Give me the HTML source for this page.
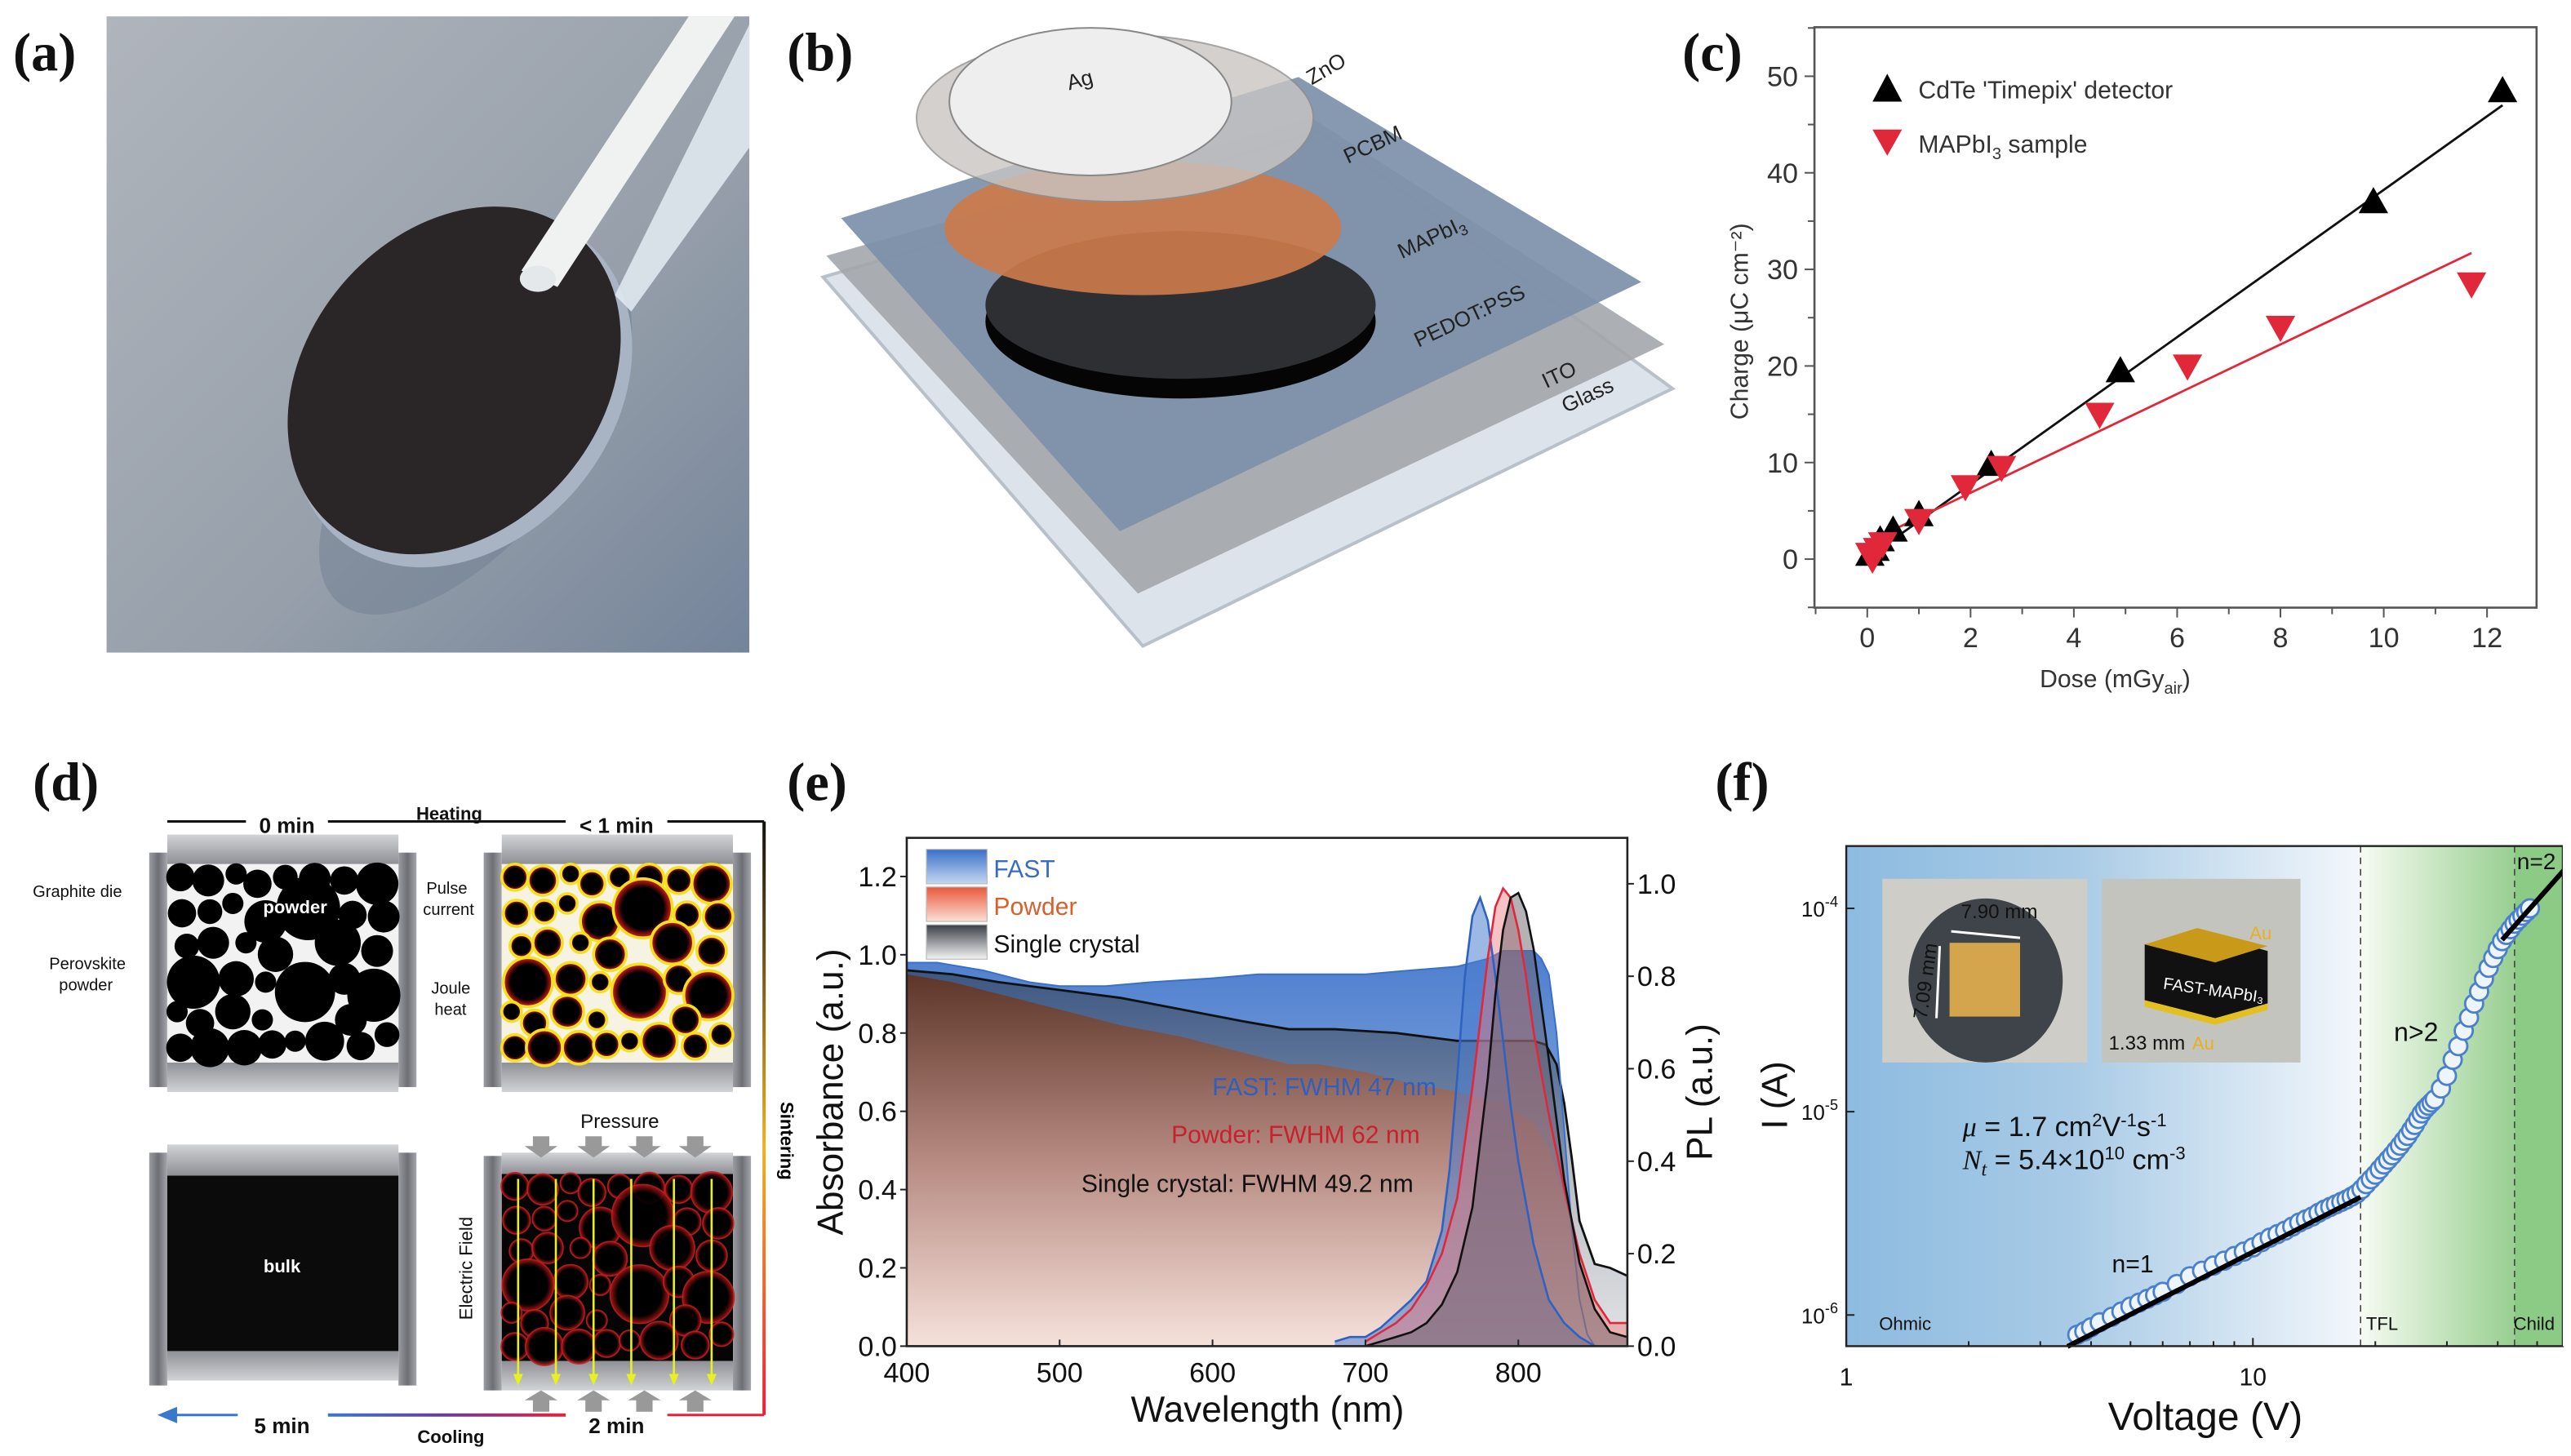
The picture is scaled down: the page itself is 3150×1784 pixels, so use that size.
<!DOCTYPE html>
<html><head><meta charset="utf-8">
<style>
html,body{margin:0;padding:0;background:#fff;}
svg{display:block;}
text{font-family:"Liberation Sans",sans-serif;}
.lbl{font-family:"Liberation Serif",serif;font-weight:bold;font-size:33px;fill:#111;}
</style></head>
<body>
<svg id="fig" xmlns="http://www.w3.org/2000/svg" width="3150" height="1784" viewBox="0 0 1568 888" preserveAspectRatio="none">
<defs>
<linearGradient id="bgA" x1="0" y1="0" x2="1" y2="1"><stop offset="0" stop-color="#b0b5bc"/><stop offset="0.6" stop-color="#969faa"/><stop offset="1" stop-color="#74849a"/></linearGradient>
<linearGradient id="gFast" x1="0" y1="0" x2="0" y2="1"><stop offset="0" stop-color="#3a70c8"/><stop offset="1" stop-color="#a8c3ea"/></linearGradient>
<linearGradient id="gPow" x1="0" y1="0" x2="0" y2="1"><stop offset="0" stop-color="#5e3426"/><stop offset="0.5" stop-color="#b88a80"/><stop offset="1" stop-color="#f7e2da"/></linearGradient>
<linearGradient id="gSc" x1="0" y1="0" x2="0" y2="1"><stop offset="0" stop-color="#2c3442"/><stop offset="1" stop-color="#c8ccd2"/></linearGradient>
<linearGradient id="gLegF" x1="0" y1="0" x2="0" y2="1"><stop offset="0" stop-color="#3a70c8"/><stop offset="1" stop-color="#c5d7f1"/></linearGradient>
<linearGradient id="gLegP" x1="0" y1="0" x2="0" y2="1"><stop offset="0" stop-color="#e8583a"/><stop offset="1" stop-color="#fbe0d6"/></linearGradient>
<linearGradient id="gLegS" x1="0" y1="0" x2="0" y2="1"><stop offset="0" stop-color="#3a3f48"/><stop offset="1" stop-color="#f4f4f4"/></linearGradient>
<linearGradient id="gBlue" x1="0" y1="0" x2="1" y2="0"><stop offset="0" stop-color="#8dbbe0"/><stop offset="0.45" stop-color="#a9cbe6"/><stop offset="1" stop-color="#f3f7fb"/></linearGradient>
<linearGradient id="gGreen" x1="0" y1="0" x2="1" y2="0"><stop offset="0" stop-color="#f6fbf2"/><stop offset="1" stop-color="#98cf90"/></linearGradient>
<linearGradient id="gPlate" x1="0" y1="0" x2="0" y2="1"><stop offset="0" stop-color="#d2d3d6"/><stop offset="1" stop-color="#8e9096"/></linearGradient>
<linearGradient id="gPlate2" x1="0" y1="0" x2="0" y2="1"><stop offset="0" stop-color="#8e9096"/><stop offset="1" stop-color="#d2d3d6"/></linearGradient>
<linearGradient id="gWall" x1="0" y1="0" x2="1" y2="0"><stop offset="0" stop-color="#9a9ca2"/><stop offset="0.5" stop-color="#6d6f75"/><stop offset="1" stop-color="#a4a6ab"/></linearGradient>
<linearGradient id="gSint" x1="0" y1="0" x2="0" y2="1"><stop offset="0" stop-color="#111"/><stop offset="0.55" stop-color="#f0b020"/><stop offset="1" stop-color="#e8203a"/></linearGradient>
<linearGradient id="gCool" x1="0" y1="0" x2="1" y2="0"><stop offset="0" stop-color="#3a78d0"/><stop offset="0.5" stop-color="#6a3a9a"/><stop offset="1" stop-color="#e8203a"/></linearGradient>
<radialGradient id="gHot" cx="0.5" cy="0.5" r="0.5"><stop offset="0.7" stop-color="#000"/><stop offset="0.95" stop-color="#c01818"/><stop offset="1" stop-color="#ff9020"/></radialGradient>
<radialGradient id="gHot2" cx="0.5" cy="0.5" r="0.5"><stop offset="0.75" stop-color="#000"/><stop offset="1" stop-color="#b01515"/></radialGradient>
</defs>

<text class="lbl" x="8" y="43">(a)</text>
<text class="lbl" x="480" y="43">(b)</text>
<text class="lbl" x="1026" y="43">(c)</text>
<text class="lbl" x="20" y="488">(d)</text>
<text class="lbl" x="480" y="488">(e)</text>
<text class="lbl" x="1046" y="488">(f)</text>

<!-- (a) photo -->
<g>
<rect x="65" y="10" width="392" height="388" fill="url(#bgA)"/>
<ellipse cx="290" cy="268" rx="130" ry="60" transform="rotate(-50 290 268)" fill="#6d7c90" opacity="0.45"/>
<ellipse cx="282" cy="238" rx="118" ry="92" transform="rotate(-50 282 238)" fill="#a8b4c4"/>
<ellipse cx="277" cy="232" rx="116" ry="90" transform="rotate(-50 277 232)" fill="#2a2527"/>
<polygon points="457,15 457,90 385,190 375,180" fill="#dfe8ee" opacity="0.9"/>
<polygon points="420,10 448,10 340,175 318,165" fill="#f0f2f2"/>
<ellipse cx="328" cy="170" rx="11" ry="8" fill="#e4e8ea"/>
</g>

<!-- (b) device stack -->
<g>
<polygon points="502,169 805,80 1020,237 697,394" fill="#dde3ea" stroke="#b8c0ca" stroke-width="2"/>
<polygon points="504,156 800,72 1015,210 694,362" fill="#a3a6ab" opacity="0.9"/>
<polygon points="513,133 792,47 1001,172 683,324" fill="#7d90aa" opacity="0.92"/>
<ellipse cx="720" cy="196" rx="119" ry="47" fill="#050505"/>
<ellipse cx="720" cy="186" rx="119" ry="45" fill="#2d2f33"/>
<ellipse cx="697" cy="139" rx="121" ry="41" fill="#cc7a4a" opacity="0.92"/>
<ellipse cx="680" cy="72" rx="121" ry="51" fill="#c9c5c3" opacity="0.8" stroke="#8f8f8f"/>
<ellipse cx="665" cy="62" rx="86" ry="45" fill="#eeeeee" stroke="#888"/>
<g font-size="13" fill="#222">
<text x="652" y="55" transform="rotate(-15 652 55)">Ag</text>
<text x="800" y="52" transform="rotate(-30 800 52)">ZnO</text>
<text x="822" y="100" transform="rotate(-25 822 100)">PCBM</text>
<text x="855" y="158" transform="rotate(-25 855 158)">MAPbI<tspan font-size="9" dy="3">3</tspan></text>
<text x="865" y="212" transform="rotate(-25 865 212)">PEDOT:PSS</text>
<text x="943" y="237" transform="rotate(-25 943 237)">ITO</text>
<text x="955" y="252" transform="rotate(-25 955 252)">Glass</text>
</g>
</g>

<g id="chartC"></g>

<g id="panelD">
<g font-weight="bold" font-size="13" fill="#111">
<text x="175" y="508" text-anchor="middle">0 min</text>
<text x="274" y="500" text-anchor="middle" font-size="11">Heating</text>
<text x="376" y="508" text-anchor="middle">&lt; 1 min</text>
<text x="172" y="874" text-anchor="middle">5 min</text>
<text x="376" y="874" text-anchor="middle">2 min</text>
<text x="275" y="880" text-anchor="middle" font-size="11">Cooling</text>
</g>
<line x1="102" y1="501" x2="150" y2="501" stroke="#111" stroke-width="1.5"/>
<line x1="200" y1="501" x2="345" y2="501" stroke="#111" stroke-width="1.5"/>
<line x1="407" y1="501" x2="466" y2="501" stroke="#111" stroke-width="1.5"/>
<rect x="465" y="501" width="2" height="362" fill="url(#gSint)"/>
<line x1="407" y1="863" x2="466" y2="863" stroke="#e8203a" stroke-width="1.5"/>
<rect x="200" y="862" width="145" height="2" fill="url(#gCool)"/>
<line x1="104" y1="863" x2="145" y2="863" stroke="#3a78d0" stroke-width="1.5"/>
<polygon points="96,863 108,858 108,868" fill="#3a78d0"/>
<text x="476" y="672" font-size="11" font-weight="bold" transform="rotate(90 476 672)">Sintering</text>
<g font-size="10" fill="#111">
<text x="20" y="547">Graphite die</text>
<text x="30" y="591">Perovskite</text><text x="36" y="604">powder</text>
<text x="260" y="545">Pulse</text><text x="258" y="558">current</text>
<text x="263" y="606">Joule</text><text x="265" y="619">heat</text>
<text x="378" y="688" font-size="12" text-anchor="middle">Pressure</text>
<text x="288" y="805" font-size="11" transform="rotate(-90 288 805)">Electric Field</text>
</g>
</g>

<g id="chartE"></g>
<g id="chartF"></g>
</svg>

<script>
const NS='http://www.w3.org/2000/svg';
function mk(tag,attrs,parent){const e=document.createElementNS(NS,tag);for(const k in attrs)e.setAttribute(k,attrs[k]);parent.appendChild(e);return e;}
function txt(s,attrs,parent){const e=mk('text',attrs,parent);e.textContent=s;return e;}

/* ---------- (c) data ---------- */
const cDoseCdTe=[0.05,0.15,0.25,0.5,1.0,2.4,4.9,9.8,12.3];
const cChargeCdTe=[0.5,1.0,2.0,3.0,4.6,9.8,19.5,37.0,48.5];
const cDoseMA=[0.05,0.1,0.2,0.3,1.0,1.9,2.6,4.5,6.2,8.0,11.7];
const cChargeMA=[0.5,0.0,1.0,1.6,4.0,7.5,9.5,15.0,20.0,24.0,28.5];
const cFitCdTeX=[0.1,12.3];
const cFitCdTeY=[0.5,47.0];
const cFitMAX=[0.1,11.7];
const cFitMAY=[2.0,31.7];
const cXTicks=[0,2,4,6,8,10,12];
const cYTicks=[0,10,20,30,40,50];

/* ---------- (e) data ---------- */
const eXTicks=[400,500,600,700,800];
const eYTicks=[0.0,0.2,0.4,0.6,0.8,1.0,1.2];
const eY2Ticks=[0.0,0.2,0.4,0.6,0.8,1.0];
const eAbsFastNm=[400,420,450,480,500,530,560,600,630,650,670,700,730,760,780,790,800,810,815,820,825,830,835,840,845,850];
const eAbsFastA=[0.98,0.98,0.96,0.93,0.92,0.92,0.93,0.94,0.95,0.95,0.95,0.95,0.96,0.97,0.99,1.01,1.01,1.01,0.99,0.95,0.8,0.55,0.3,0.12,0.03,0.0];
const eAbsScNm=[400,430,460,500,540,580,620,650,680,720,760,790,800,810,818,825,830,835,840,850,860,871];
const eAbsScA=[0.96,0.95,0.93,0.91,0.89,0.86,0.83,0.81,0.81,0.80,0.78,0.78,0.78,0.78,0.77,0.72,0.62,0.48,0.32,0.21,0.2,0.18];
const eAbsPowNm=[400,430,460,500,540,580,620,650,670,700,730,760,790,810,820,830,840,850,860,871];
const eAbsPowA=[0.95,0.93,0.90,0.86,0.82,0.79,0.75,0.72,0.72,0.70,0.67,0.65,0.62,0.57,0.5,0.38,0.22,0.1,0.05,0.04];
const ePlFastNm=[680,690,700,710,720,730,740,750,755,760,765,770,775,780,785,790,795,800,810,820,830,840,850];
const ePlFastV=[0.01,0.02,0.02,0.04,0.07,0.1,0.14,0.25,0.38,0.58,0.8,0.93,0.97,0.92,0.8,0.66,0.52,0.4,0.22,0.1,0.05,0.02,0.0];
const ePlPowNm=[700,710,720,730,740,750,760,770,780,785,790,795,800,805,810,820,830,840,850,860,871];
const ePlPowV=[0.01,0.03,0.05,0.08,0.13,0.2,0.32,0.56,0.84,0.95,0.99,0.97,0.9,0.8,0.68,0.5,0.34,0.2,0.1,0.05,0.05];
const ePlScNm=[700,710,720,730,740,750,760,770,780,785,790,795,800,805,810,820,830,840,850,860,871];
const ePlScV=[0.0,0.01,0.02,0.03,0.05,0.09,0.16,0.3,0.58,0.76,0.9,0.97,0.98,0.94,0.86,0.62,0.36,0.18,0.08,0.03,0.02];

/* ---------- (f) data ---------- */
const fXTickVals=[1,10];
const fXTickLabels=['1','10'];
const fYTickExp=[-4,-5,-6];
const fV=[3.7,3.85,4.0,4.2,4.5,4.75,5.0,5.25,5.5,5.75,6.0,6.5,7.0,7.5,8.0,8.5,9.0,9.5,10,10.5,11,11.5,12,12.5,13,13.5,14,14.5,15,15.5,16,16.5,17,17.5,18,18.5,19,19.5,20,20.5,21,21.5,22,22.5,23,23.5,24,24.5,25,25.5,26,26.5,27,27.5,28,29,30,31,32,33,34,35,36,37,38,39,40,41,42,43,44,45,46,47,48];
const fI=[8.0e-7,8.3e-7,8.7e-7,9.2e-7,9.8e-7,1.04e-6,1.1e-6,1.15e-6,1.2e-6,1.25e-6,1.3e-6,1.42e-6,1.55e-6,1.65e-6,1.75e-6,1.85e-6,1.95e-6,2.05e-6,2.15e-6,2.28e-6,2.4e-6,2.5e-6,2.6e-6,2.72e-6,2.85e-6,2.95e-6,3.05e-6,3.18e-6,3.3e-6,3.4e-6,3.5e-6,3.6e-6,3.7e-6,3.82e-6,3.95e-6,4.15e-6,4.4e-6,4.65e-6,4.9e-6,5.2e-6,5.5e-6,5.8e-6,6.1e-6,6.45e-6,6.8e-6,7.2e-6,7.6e-6,8.1e-6,8.6e-6,9.2e-6,9.8e-6,1.03e-5,1.07e-5,1.11e-5,1.15e-5,1.3e-5,1.5e-5,1.8e-5,2.1e-5,2.5e-5,2.9e-5,3.4e-5,3.9e-5,4.5e-5,5.1e-5,5.7e-5,6.3e-5,6.9e-5,7.4e-5,7.9e-5,8.4e-5,8.8e-5,9.2e-5,9.6e-5,1.0e-4];
const fFit1V=[3.5,18.4];
const fFit1I=[7.0e-7,3.8e-6];
const fFit2V=[41,60];
const fFit2I=[7.0e-5,1.65e-4];
const fRegionV=[18.4,44];

/* ===== draw (c) ===== */
(function(){
 const g=document.getElementById('chartC');
 const L=1106.6,R=1547,T=16.6,B=370.6;
 const x=v=>1138.8+v*31.5, y=q=>341-q*5.89;
 let e;
 e=mk('rect',{x:L,y:T,width:R-L,height:B-T,fill:'none',stroke:'#555','stroke-width':1.3},g);
 
 
 for(let v=-1;v<=12;v++){
  const maj=cXTicks.indexOf(v)>=0;
  e=mk('line',{x1:x(v),x2:x(v),y1:B,y2:B+(maj?6:4),stroke:'#555','stroke-width':1},g);
  
  
 }
 cXTicks.forEach(v=>{e=txt(String(v),{x:x(v),y:B+24,'font-size':17,'text-anchor':'middle',fill:'#333'},g);
  
  });
 for(let q=-5;q<=55;q+=5){
  const maj=cYTicks.indexOf(q)>=0;
  e=mk('line',{x1:L-(maj?6:4),x2:L,y1:y(q),y2:y(q),stroke:'#555','stroke-width':1},g);
  
  
 }
 cYTicks.forEach(q=>{e=txt(String(q),{x:L-10,y:y(q)+6,'font-size':17,'text-anchor':'end',fill:'#333'},g);
  
  });
 e=txt('Charge (μC cm⁻²)',{x:1066,y:196,'font-size':15,'text-anchor':'middle',fill:'#333',transform:'rotate(-90 1066 196)'},g);
 
 
 e=mk('text',{x:1290,y:419,'font-size':15,'text-anchor':'middle',fill:'#333'},g);
 e.innerHTML='Dose (mGy<tspan font-size="10" dy="4">air</tspan><tspan dy="-4">)</tspan>';
 
 
 e=mk('line',{x1:x(cFitCdTeX[0]),y1:y(cFitCdTeY[0]),x2:x(cFitCdTeX[1]),y2:y(cFitCdTeY[1]),stroke:'#111','stroke-width':1.4},g);
 
 
 e=mk('line',{x1:x(cFitMAX[0]),y1:y(cFitMAY[0]),x2:x(cFitMAX[1]),y2:y(cFitMAY[1]),stroke:'#e0283a','stroke-width':1.4},g);
 
 
 cDoseCdTe.forEach((d,i)=>{const px=x(d),py=y(cChargeCdTe[i]);
  e=mk('polygon',{points:`${px},${py-9} ${px-9},${py+7} ${px+9},${py+7}`,fill:'#000'},g);
  
  });
 cDoseMA.forEach((d,i)=>{const px=x(d),py=y(cChargeMA[i]);
  e=mk('polygon',{points:`${px},${py+9} ${px-9},${py-7} ${px+9},${py-7}`,fill:'#e0283a'},g);
  
  });
 e=mk('polygon',{points:'1151,45 1142,62 1160,62',fill:'#000'},g);
 
 
 e=txt("CdTe 'Timepix' detector",{x:1170,y:60,'font-size':15,fill:'#333'},g);
 
 
 e=mk('polygon',{points:'1151,95 1142,79 1160,79',fill:'#e0283a'},g);
 
 
 e=mk('text',{x:1170,y:93,'font-size':15,fill:'#333'},g);
 e.innerHTML='MAPbI<tspan font-size="10" dy="4">3</tspan><tspan dy="-4"> sample</tspan>';
 
 
})();

/* ===== draw (d) ===== */
(function(){
 const g=document.getElementById('panelD');
 const circles=[[8,8,8],[25,10,9],[42,6,6],[55,12,8],[72,8,7],[90,9,9],[108,10,8],[128,12,12],[9,30,8],[26,29,7],[40,24,6],[60,35,12],[86,27,18],[113,31,8],[132,32,9],[12,50,7],[28,48,9],[48,48,6],[66,55,10],[104,48,13],[128,53,9],[16,72,15],[42,70,10],[60,72,6],[84,78,17],[108,70,9],[126,80,15],[6,90,6],[20,97,8],[40,90,10],[58,95,6],[112,95,9],[8,112,8],[26,112,11],[47,112,10],[64,110,8],[78,108,6],[96,108,11],[118,111,8],[134,104,7]];
 function die(ox,top1,top2,bot1,bot2,wallT,wallB,name){
  let e=mk('rect',{x:ox-11,y:wallT,width:11,height:wallB-wallT,fill:'url(#gWall)'},g);
  
  
  e=mk('rect',{x:ox+141,y:wallT,width:11,height:wallB-wallT,fill:'url(#gWall)'},g);
  
  
  e=mk('rect',{x:ox,y:top1,width:141,height:top2-top1,fill:'url(#gPlate)'},g);
  
  
  e=mk('rect',{x:ox,y:bot1,width:141,height:bot2-bot1,fill:'url(#gPlate2)'},g);
  
  
 }
 die(102,509,527,648,666,520,663,'d-die-0min');
 let e=mk('rect',{x:102,y:527,width:141,height:121,fill:'#f2f2f2'},g);
 
 
 circles.forEach(c=>{e=mk('circle',{cx:102+c[0],cy:527+c[1],r:c[2]*1.08,fill:'#000'},g);
  
  });
 txt('powder',{x:180,y:557,'font-size':11,'font-weight':'bold',fill:'#fff','text-anchor':'middle'},g);
 die(306,509,527,648,666,520,663,'d-die-1min');
 e=mk('rect',{x:306,y:527,width:141,height:121,fill:'#f6f3e2'},g);
 
 
 circles.forEach(c=>{e=mk('circle',{cx:306+c[0],cy:527+c[1],r:c[2]*1.0,fill:'url(#gHot)',stroke:'#f4e020','stroke-width':1.8},g);
  
  });
 die(102,698,717,824,842,703,845,'d-die-5min');
 e=mk('rect',{x:102,y:717,width:141,height:107,fill:'#0b0b0b'},g);
 
 
 txt('bulk',{x:172,y:776,'font-size':11,'font-weight':'bold',fill:'#fff','text-anchor':'middle'},g);
 die(306,703,716,830,848,705,848,'d-die-2min');
 e=mk('rect',{x:306,y:716,width:141,height:114,fill:'#050505'},g);
 
 
 circles.forEach(c=>{e=mk('circle',{cx:306+c[0],cy:716+c[1]*0.94,r:c[2]*1.05,fill:'url(#gHot2)',stroke:'#c02020','stroke-width':0.8,opacity:0.9},g);
  
  });
 [316,339,362,385,411,434].forEach(ax=>{
  e=mk('line',{x1:ax,y1:719,x2:ax,y2:842,stroke:'#e8f020','stroke-width':1.3},g);
  
  
  mk('polygon',{points:`${ax-3},838 ${ax+3},838 ${ax},845`,fill:'#e8f020'},g);
 });
 [330,362,393,424].forEach(ax=>{
  e=mk('polygon',{points:`${ax-5},693 ${ax+5},693 ${ax+5},699 ${ax+10},699 ${ax},706 ${ax-10},699 ${ax-5},699`,fill:'#999'},g);
  
  
  e=mk('polygon',{points:`${ax-5},861 ${ax+5},861 ${ax+5},854 ${ax+10},854 ${ax},848 ${ax-10},854 ${ax-5},854`,fill:'#999'},g);
  
  
 });
})();

/* ===== draw (e) ===== */
(function(){
 const g=document.getElementById('chartE');
 const L=553,R=992.5,T=511,B=821;
 const x=n=>553+(n-400)*0.9325, ya=a=>821-a*238.7, yp=p=>821-p*282;
 let e;
 function area(nm,vals,yf,attrs){
  let d=`M${x(nm[0])},${B}`;nm.forEach((n,i)=>{d+=` L${x(n).toFixed(1)},${yf(vals[i]).toFixed(1)}`;});
  d+=` L${x(nm[nm.length-1])},${B} Z`;
  return mk('path',Object.assign({d:d},attrs),g);
 }
 function line(nm,vals,yf,attrs){
  let d='';nm.forEach((n,i)=>{d+=(i?' L':'M')+x(n).toFixed(1)+','+yf(vals[i]).toFixed(1);});
  return mk('path',Object.assign({d:d,fill:'none'},attrs),g);
 }
 e=mk('rect',{x:L,y:T,width:R-L,height:B-T,fill:'#fff'},g);
 
 
 e=area(eAbsFastNm,eAbsFastA,ya,{fill:'url(#gFast)',opacity:0.9});
 
 
 e=area(eAbsScNm,eAbsScA,ya,{fill:'url(#gSc)',opacity:0.55});
 
 
 e=area(eAbsPowNm,eAbsPowA,ya,{fill:'url(#gPow)',opacity:0.97});
 
 
 e=line(eAbsScNm,eAbsScA,ya,{stroke:'#111','stroke-width':1.4});
 
 
 e=line(eAbsFastNm,eAbsFastA,ya,{stroke:'#3a70c8','stroke-width':1});
 
 
 e=area(ePlFastNm,ePlFastV,yp,{fill:'#4a7ed0',opacity:0.55});
 
 
 e=area(ePlPowNm,ePlPowV,yp,{fill:'#e87a7a',opacity:0.45});
 
 
 e=area(ePlScNm,ePlScV,yp,{fill:'#6a6470',opacity:0.5});
 
 
 e=line(ePlFastNm,ePlFastV,yp,{stroke:'#2f62c0','stroke-width':1.3});
 
 
 e=line(ePlPowNm,ePlPowV,yp,{stroke:'#e0283a','stroke-width':1.3});
 
 
 e=line(ePlScNm,ePlScV,yp,{stroke:'#111','stroke-width':1.3});
 
 
 e=mk('rect',{x:L,y:T,width:R-L,height:B-T,fill:'none',stroke:'#222','stroke-width':1.3},g);
 
 
 eXTicks.forEach(n=>{e=mk('line',{x1:x(n),x2:x(n),y1:B,y2:B-4,stroke:'#222'},g);
  
  
  e=txt(String(n),{x:x(n),y:B+22,'font-size':17,'text-anchor':'middle',fill:'#111'},g);
  
  });
 eYTicks.forEach(a=>{e=mk('line',{x1:L-4,x2:L,y1:ya(a),y2:ya(a),stroke:'#222'},g);
  
  
  e=txt(a.toFixed(1),{x:L-6,y:ya(a)+6,'font-size':17,'text-anchor':'end',fill:'#111'},g);
  
  });
 eY2Ticks.forEach(p=>{e=mk('line',{x1:R,x2:R+4,y1:yp(p),y2:yp(p),stroke:'#222'},g);
  
  
  e=txt(p.toFixed(1),{x:R+6,y:yp(p)+6,'font-size':17,fill:'#111'},g);
  
  });
 e=txt('Absorbance (a.u.)',{x:514,y:666,'font-size':22,'text-anchor':'middle',fill:'#111',transform:'rotate(-90 514 666)'},g);
 
 
 e=txt('PL (a.u.)',{x:1044,y:666,'font-size':22,'text-anchor':'middle',fill:'#111',transform:'rotate(-90 1044 666)'},g);
 
 
 e=txt('Wavelength (nm)',{x:773,y:867,'font-size':22,'text-anchor':'middle',fill:'#111'},g);
 
 
 [['url(#gLegF)','FAST','#3a6cc0',518],['url(#gLegP)','Powder','#d9602a',541],['url(#gLegS)','Single crystal','#111',564]].forEach(r=>{
  e=mk('rect',{x:565,y:r[3],width:37,height:21,fill:r[0],stroke:'#bbb','stroke-width':0.6},g);
  
  
  e=txt(r[1],{x:606,y:r[3]+17,'font-size':15,fill:r[2]},g);
  
  });
 e=txt('FAST: FWHM 47 nm',{x:876,y:668,'font-size':15,'text-anchor':'end',fill:'#2f5fc0'},g);
 
 
 e=txt('Powder: FWHM 62 nm',{x:866,y:697,'font-size':15,'text-anchor':'end',fill:'#c8202f'},g);
 
 
 e=txt('Single crystal: FWHM 49.2 nm',{x:862,y:727,'font-size':15,'text-anchor':'end',fill:'#111'},g);
 
 
})();

/* ===== draw (f) ===== */
(function(){
 const g=document.getElementById('chartF');
 const L=1126,R=1563,T=516,B=821;
 const x=v=>1126+Math.log10(v)*248, y=i=>554+(-4-Math.log10(i))*124;
 let e;
 const xa=x(fRegionV[0]), xb=x(fRegionV[1]);
 e=mk('rect',{x:L,y:T,width:xa-L,height:B-T,fill:'url(#gBlue)'},g);
 
 
 e=mk('rect',{x:xa,y:T,width:xb-xa,height:B-T,fill:'url(#gGreen)'},g);
 
 
 e=mk('rect',{x:xb,y:T,width:R-xb,height:B-T,fill:'#8ccb86'},g);
 
 
 [xa,xb].forEach(xx=>{e=mk('line',{x1:xx,x2:xx,y1:T,y2:B,stroke:'#444','stroke-width':0.8,'stroke-dasharray':'4,3'},g);
  
  });
 e=mk('rect',{x:1148,y:536,width:125,height:112,fill:'#cfcdc8'},g);
 
 
 mk('ellipse',{cx:1211,cy:598,rx:47,ry:50,fill:'#3e444a'},g);
 mk('rect',{x:1189,y:575,width:43,height:45,fill:'#d4a54c'},g);
 mk('line',{x1:1190,y1:568,x2:1232,y2:572,stroke:'#fff','stroke-width':1.5},g);
 mk('line',{x1:1183,y1:577,x2:1181,y2:621,stroke:'#fff','stroke-width':1.5},g);
 txt('7.90 mm',{x:1196,y:560,'font-size':12,fill:'#111'},g);
 txt('7.09 mm',{x:1175,y:622,'font-size':12,fill:'#111',transform:'rotate(-82 1175 622)'},g);
 e=mk('rect',{x:1282,y:536,width:121,height:112,fill:'#c3c4bd'},g);
 
 
 mk('polygon',{points:'1308,576 1340,568 1383,580 1383,612 1351,621 1308,610',fill:'#111'},g);
 mk('polygon',{points:'1308,576 1340,566 1383,577 1351,587',fill:'#c99a1a'},g);
 mk('polygon',{points:'1308,610 1351,621 1383,612 1383,616 1351,625 1308,614',fill:'#e3c020'},g);
 txt('FAST-MAPbI₃',{x:1319,y:603,'font-size':10,fill:'#fff',transform:'rotate(8 1319 603)'},g);
 txt('Au',{x:1372,y:573,'font-size':11,fill:'#e8b020'},g);
 txt('1.33 mm',{x:1286,y:640,'font-size':12,fill:'#111'},g);
 txt('Au',{x:1337,y:640,'font-size':11,fill:'#e8b020'},g);
 fV.forEach((v,i)=>{e=mk('circle',{cx:x(v),cy:y(fI[i]),r:5.5,fill:'#eef4fb',stroke:'#4a80cc','stroke-width':1.4},g);
  
  });
 e=mk('line',{x1:x(fFit1V[0]),y1:y(fFit1I[0]),x2:x(fFit1V[1]),y2:y(fFit1I[1]),stroke:'#000','stroke-width':3},g);
 
 
 e=mk('line',{x1:x(fFit2V[0]),y1:y(fFit2I[0]),x2:x(fFit2V[1]),y2:y(fFit2I[1]),stroke:'#000','stroke-width':3},g);
 
 
 e=mk('rect',{x:L,y:T,width:R-L,height:B-T,fill:'none',stroke:'#222','stroke-width':1.2},g);
 
 
 mk('rect',{x:R,y:T-10,width:6,height:B-T+10,fill:'#fff'},g);
 fXTickVals.forEach((v,i)=>{e=txt(fXTickLabels[i],{x:x(v),y:B+24,'font-size':15,'text-anchor':'middle',fill:'#111'},g);
  
  });
 for(let d=0;d<2;d++)for(let k=1;k<=9;k++){const v=k*Math.pow(10,d);if(x(v)>R)break;
  e=mk('line',{x1:x(v),x2:x(v),y1:B,y2:B-(k==1?5:3),stroke:'#222'},g);
  
  }
 fYTickExp.forEach(p=>{const yy=y(Math.pow(10,p));
  e=mk('line',{x1:L,x2:L+5,y1:yy,y2:yy,stroke:'#222'},g);
  
  
  e=mk('text',{x:L-5,y:yy+5,'font-size':13,'text-anchor':'end',fill:'#111'},g);
  e.innerHTML='10<tspan font-size="9" dy="-6">'+(p<0?'-':'')+Math.abs(p)+'</tspan>';
  
  });
 e=txt('I (A)',{x:1090,y:668,'font-size':22,'text-anchor':'middle',fill:'#111',transform:'rotate(-90 1090 668)'},g);
 
 
 e=txt('Voltage (V)',{x:1345,y:872,'font-size':24,'text-anchor':'middle',fill:'#111'},g);
 
 
 const ann=[['Ohmic',1146,811,11],['TFL',1443,811,11],['Child',1533,811,11],['n=1',1288,776,15],['n>2',1460,635,16],['n=2',1535,530,14]];
 ann.forEach(a=>{e=txt(a[0],{x:a[1],y:a[2],'font-size':a[3],fill:'#111'},g);
  
  });
 e=mk('text',{x:1197,y:693,'font-size':17,fill:'#111'},g);
 e.innerHTML='<tspan font-style="italic" font-family="Liberation Serif">μ</tspan> = 1.7 cm<tspan font-size="11" dy="-6">2</tspan><tspan dy="6">V</tspan><tspan font-size="11" dy="-6">-1</tspan><tspan dy="6">s</tspan><tspan font-size="11" dy="-6">-1</tspan>';
 
 
 e=mk('text',{x:1197,y:713,'font-size':17,fill:'#111'},g);
 e.innerHTML='<tspan font-style="italic" font-family="Liberation Serif">N<tspan font-size="12" dy="4">t</tspan></tspan><tspan dy="-4"> = 5.4×10</tspan><tspan font-size="11" dy="-6">10</tspan><tspan dy="6"> cm</tspan><tspan font-size="11" dy="-6">-3</tspan>';
 
 
})();
</script>
</body></html>
